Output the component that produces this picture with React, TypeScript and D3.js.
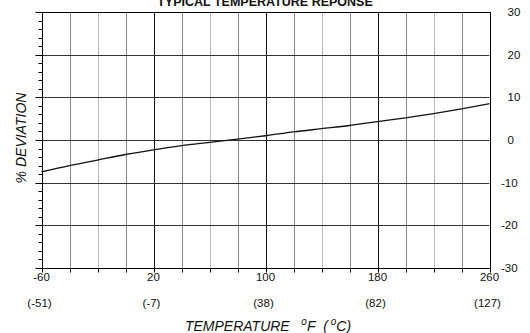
import * as d3 from 'd3'

const tempF = [-60, -40, -20, 0, 20, 40, 60, 80, 100, 120, 140, 160, 180, 200, 220, 240, 260]
const deviation = [-7.5, -6.0, -4.7, -3.4, -2.3, -1.3, -0.55, 0.2, 1.0, 1.9, 2.65, 3.4, 4.3, 5.2, 6.2, 7.3, 8.5]
const fTicks = [-60, 20, 100, 180, 260]
const cLabels = ['(-51)', '(-7)', '(38)', '(82)', '(127)']
const yTicks = [30, 20, 10, 0, -10, -20, -30]

const W = 530
const H = 333
const m = { left: 41.5, right: 40.5, top: 12, bottom: 65 }
const FONT = '"Liberation Sans", Arial, Helvetica, sans-serif'

export default function App() {
  const iw = W - m.left - m.right
  const ih = H - m.top - m.bottom
  const x = d3.scaleLinear().domain([-60, 260]).range([m.left, m.left + iw])
  const y = d3.scaleLinear().domain([-30, 30]).range([m.top + ih, m.top])

  const minorX = d3.range(-60, 261, 20)
  const minorY = d3.range(-30, 31, 2)
  const pts = tempF.map((t, i) => [t, deviation[i]] as [number, number])
  const line = d3.line<[number, number]>()
    .x(d => x(d[0])).y(d => y(d[1]))
    .curve(d3.curveMonotoneX)

  const px = (v: number) => Math.round(v) + 0.5

  return (
    <svg width={W} height={H} style={{ position: 'absolute', left: 0, top: 0 }} fontFamily={FONT}>
      <rect width={W} height={H} fill="#fff" />
      {/* vertical grid */}
      {minorX.map(t => {
        const major = fTicks.includes(t)
        const light = !major && ((t + 60) / 20) % 4 === 2
        return (
          <line key={'vx' + t} x1={px(x(t))} x2={px(x(t))} y1={m.top} y2={m.top + ih}
            stroke={major ? '#111' : light ? '#bbb' : '#888'} strokeWidth={1} />
        )
      })}
      {/* horizontal grid */}
      {yTicks.map(v => (
        <line key={'hy' + v} x1={m.left} x2={m.left + iw} y1={px(y(v))} y2={px(y(v))}
          stroke="#333" strokeWidth={1} />
      ))}
      {/* frame */}
      <rect x={px(m.left)} y={px(m.top)} width={Math.round(iw)} height={Math.round(ih)}
        fill="none" stroke="#000" strokeWidth={1} />
      {/* left ticks */}
      {minorY.map(v => {
        const major = v % 10 === 0
        return (
          <line key={'ly' + v} x1={px(m.left) - (major ? 7 : 4)} x2={px(m.left)}
            y1={px(y(v))} y2={px(y(v))} stroke="#000" strokeWidth={1} />
        )
      })}
      {/* bottom ticks */}
      {minorX.map(t => (
        <line key={'bx' + t} x1={px(x(t))} x2={px(x(t))} y1={px(m.top + ih)} y2={px(m.top + ih) + 4}
          stroke="#000" strokeWidth={1} />
      ))}
      {/* curve */}
      <path d={line(pts) ?? ''} fill="none" stroke="#111" strokeWidth={1.3} />
      {/* right labels */}
      {yTicks.map(v => (
        <text key={'rl' + v} x={v < 0 ? 501 : 507.5} y={y(v)} dy="0.35em" fontSize={11.5} fill="#111">
          {v}
        </text>
      ))}
      {/* bottom F labels */}
      {fTicks.map(t => (
        <text key={'fl' + t} x={x(t)} y={281} textAnchor="middle" fontSize={11.5} fill="#111">{t}</text>
      ))}
      {fTicks.map((t, i) => (
        <text key={'cl' + t} x={x(t) - 2} y={307} textAnchor="middle" fontSize={11.5} fill="#111">{cLabels[i]}</text>
      ))}
      {/* titles */}
      <text x={265} y={6} textAnchor="middle" fontSize={12.5} fontWeight="bold" fill="#111">
        TYPICAL TEMPERATURE REPONSE
      </text>
      <text x={268} y={331} textAnchor="middle" fontSize={14} fontStyle="italic" fill="#111">
        TEMPERATURE{'\u00a0\u00a0\u00a0'}<tspan fontSize={10} dy={-6}>o</tspan><tspan dy={6}>F{'\u00a0\u00a0'}(</tspan>
        <tspan fontSize={10} dy={-6}>{'\u00a0'}o</tspan><tspan dy={6}>C)</tspan>
      </text>
      <text transform={`translate(26,${y(0) - 2}) rotate(-90)`} textAnchor="middle" fontSize={14}
        fontStyle="italic" fill="#111">
        % DEVIATION
      </text>
    </svg>
  )
}
